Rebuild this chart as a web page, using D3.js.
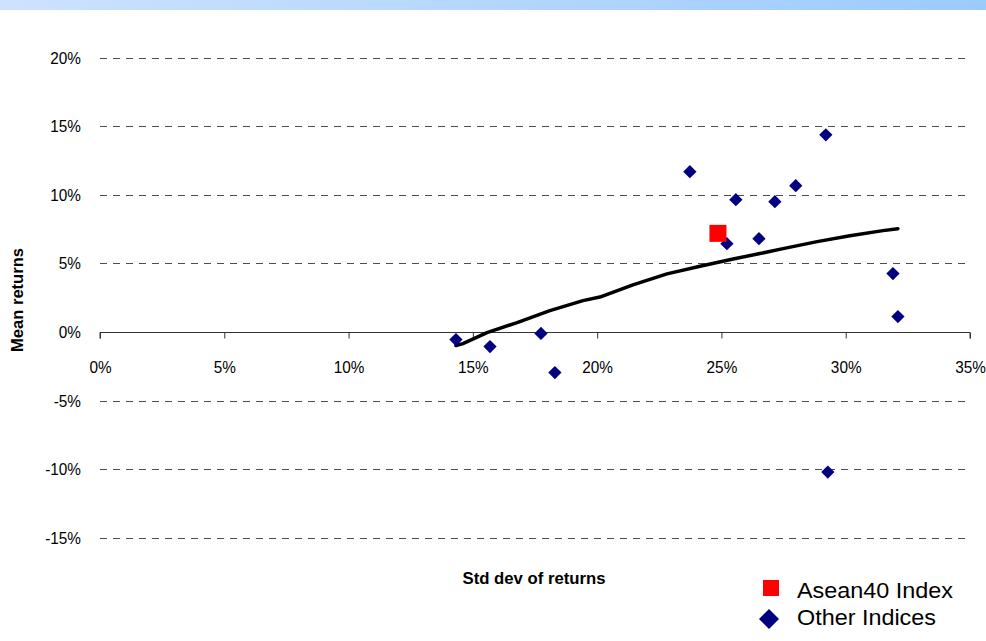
<!DOCTYPE html>
<html>
<head>
<meta charset="utf-8">
<script src="https://cdn.jsdelivr.net/npm/d3@7"></script>
<style>
  html, body { margin: 0; padding: 0; background: #fff; }
  svg { display: block; }
  text { font-family: "Liberation Sans", Arial, sans-serif; fill: #000; }
</style>
</head>
<body>
<svg id="chart" width="986" height="641"></svg>
<script>
// Risk / return of the Asean40 Index against other regional indices (values in %)
const xTicks = [0, 5, 10, 15, 20, 25, 30, 35];
const yTicks = [-15, -10, -5, 0, 5, 10, 15, 20];

const asean40 = [{ sd: 24.86, mean: 7.19 }];

const otherSd   = [14.32, 15.69, 17.74, 18.30, 23.73, 25.22, 25.58, 26.51, 27.15, 27.99, 29.20, 29.28, 31.90, 32.10];
const otherMean = [-0.55, -1.06, -0.10, -2.95, 11.68,  6.44,  9.64,  6.80,  9.50, 10.66, 14.37, -10.20, 4.26,  1.13];

// Fitted risk/return frontier
const curveSd   = [14.32, 14.60, 15.57, 16.78, 18.10, 19.43, 20.11, 21.44, 22.81, 24.14, 25.47, 26.55, 27.48, 28.85, 30.17, 31.50, 32.10];
const curveMean = [-0.98, -0.84, -0.04,  0.69,  1.56,  2.29,  2.55,  3.44,  4.24,  4.80,  5.32,  5.72,  6.08,  6.59,  7.02,  7.39,  7.53];

const legendLabels = ["Asean40 Index", "Other Indices"];

const svg = d3.select("#chart");

// Header band
const defs = svg.append("defs");
const grad = defs.append("linearGradient").attr("id", "band").attr("x1", "0%").attr("x2", "100%");
grad.append("stop").attr("offset", "0%").attr("stop-color", "#cde2fe");
grad.append("stop").attr("offset", "100%").attr("stop-color", "#9ccbfe");
svg.append("rect").attr("x", 0).attr("y", 0).attr("width", 986).attr("height", 10).attr("fill", "url(#band)");

const x = d3.scaleLinear().domain([0, 35]).range([100, 970]);
const y = d3.scaleLinear().domain([-15, 20]).range([538, 57.5]);

const tickFont = 16.5;
const tickSquash = 0.93;

// Dashed horizontal gridlines
svg.append("g").selectAll("line")
  .data(yTicks.filter(d => d !== 0))
  .join("line")
  .attr("x1", x(0)).attr("x2", x(35))
  .attr("y1", d => Math.round(y(d)) + 0.5).attr("y2", d => Math.round(y(d)) + 0.5)
  .attr("stroke", "#4d4d4d").attr("stroke-width", 1)
  .attr("stroke-dasharray", "7,6");

// Y tick labels
svg.append("g").selectAll("text")
  .data(yTicks)
  .join("text")
  .attr("transform", d => `translate(81,${y(d) + 6}) scale(${tickSquash},1)`)
  .attr("text-anchor", "end")
  .attr("font-size", tickFont)
  .text(d => d + "%");

// X axis through 0%
const xAxis = d3.axisBottom(x).tickValues(xTicks).tickSize(6).tickFormat(d => d + "%");
const gx = svg.append("g").attr("transform", `translate(0,${Math.round(y(0)) + 0.5})`).call(xAxis);
gx.select(".domain").attr("stroke", "#333").attr("d", `M${x(0)},6V0H${x(35)}V6`);
gx.selectAll(".tick line").attr("stroke", "#333");
gx.selectAll(".tick text")
  .attr("font-family", "Liberation Sans, Arial, sans-serif")
  .attr("font-size", tickFont).attr("fill", "#000")
  .attr("dy", 0).attr("y", 0)
  .attr("transform", `translate(0,40) scale(${tickSquash},1)`);

// Axis titles
svg.append("text")
  .attr("transform", `translate(23,${300}) rotate(-90)`)
  .attr("text-anchor", "middle")
  .attr("font-weight", "bold").attr("font-size", 16)
  .attr("textLength", 104).attr("lengthAdjust", "spacingAndGlyphs")
  .text("Mean returns");

svg.append("text")
  .attr("x", 534).attr("y", 584)
  .attr("text-anchor", "middle")
  .attr("font-weight", "bold").attr("font-size", 17)
  .attr("textLength", 143).attr("lengthAdjust", "spacingAndGlyphs")
  .text("Std dev of returns");

// Frontier curve
const curve = curveSd.map((s, i) => ({ sd: s, mean: curveMean[i] }));
svg.append("path")
  .datum(curve)
  .attr("fill", "none").attr("stroke", "#000").attr("stroke-width", 3.5)
  .attr("stroke-linejoin", "round").attr("stroke-linecap", "round")
  .attr("d", d3.line().x(d => x(d.sd)).y(d => y(d.mean)));

// Other indices (diamonds)
const others = otherSd.map((s, i) => ({ sd: s, mean: otherMean[i] }));
svg.append("g").selectAll("path")
  .data(others)
  .join("path")
  .attr("transform", d => `translate(${x(d.sd)},${y(d.mean)}) rotate(45)`)
  .attr("d", d3.symbol().type(d3.symbolSquare).size(88))
  .attr("fill", "#000080");

// Asean40 index (square)
svg.append("g").selectAll("rect")
  .data(asean40)
  .join("rect")
  .attr("x", d => x(d.sd) - 8.5).attr("y", d => y(d.mean) - 8.5)
  .attr("width", 17).attr("height", 17)
  .attr("fill", "#ff0000");

// Legend
const legend = svg.append("g");
legend.append("rect").attr("x", 763).attr("y", 580).attr("width", 16).attr("height", 16).attr("fill", "#ff0000");
legend.append("path")
  .attr("transform", "translate(769,619) rotate(45)")
  .attr("d", d3.symbol().type(d3.symbolSquare).size(200))
  .attr("fill", "#000080");
legend.selectAll("text")
  .data(legendLabels)
  .join("text")
  .attr("x", 797).attr("y", (d, i) => 598 + i * 27)
  .attr("font-size", 21.5)
  .attr("textLength", (d, i) => i === 0 ? 156 : 139)
  .attr("lengthAdjust", "spacingAndGlyphs")
  .text(d => d);
</script>
</body>
</html>
